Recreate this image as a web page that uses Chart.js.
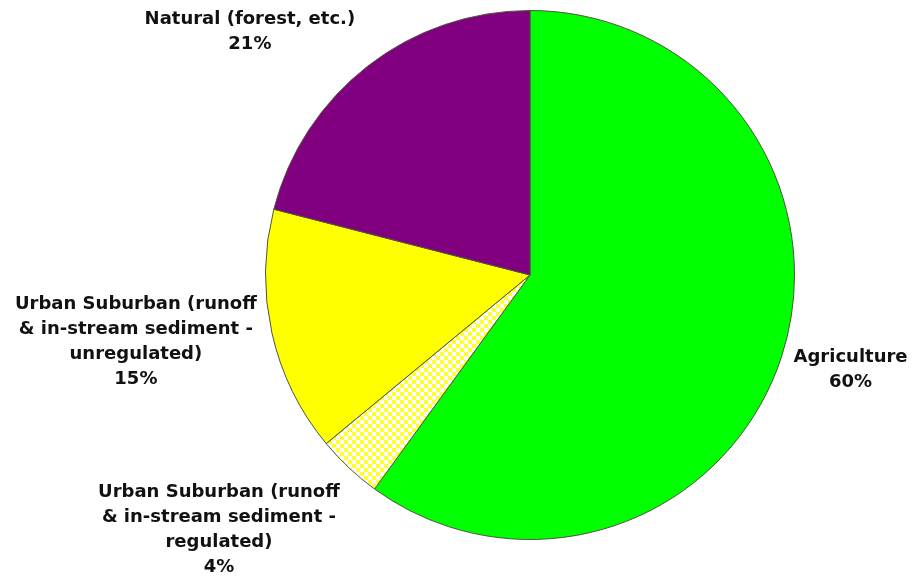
<!DOCTYPE html>
<html>
<head>
<meta charset="utf-8">
<script src="https://cdn.jsdelivr.net/npm/chart.js@4/dist/chart.umd.min.js"></script>
<style>
  html, body { margin: 0; padding: 0; background: #fff; }
  #wrap { width: 914px; height: 582px; }
</style>
</head>
<body>
<div id="wrap"><canvas id="c" width="914" height="582"></canvas></div>
<script>
// data, clockwise from 12 o'clock
const categories = [
  "Agriculture",
  "Urban Suburban (runoff\n& in-stream sediment -\nregulated)",
  "Urban Suburban (runoff\n& in-stream sediment -\nunregulated)",
  "Natural (forest, etc.)"
];
const shares = [60, 4, 15, 21];

// where each label sits relative to the outer middle of its slice (first line centre)
const labelOffsets = [[69, 1], [-130, 25], [-136, -28], [-118, -47]];

// yellow / white checker for the regulated slice
function checker() {
  const p = document.createElement("canvas");
  p.width = 8; p.height = 8;
  const g = p.getContext("2d");
  g.fillStyle = "#ffffff";
  g.fillRect(0, 0, 8, 8);
  g.fillStyle = "#ffff33";
  g.fillRect(0, 0, 4, 4);
  g.fillRect(4, 4, 4, 4);
  return g.createPattern(p, "repeat");
}

const labelPlugin = {
  id: "outerLabels",
  afterDraw(chart) {
    const ctx = chart.ctx;
    const arcs = chart.getDatasetMeta(0).data;
    ctx.save();
    ctx.font = "bold 18px 'DejaVu Sans', Verdana, sans-serif";
    ctx.fillStyle = "#111";
    ctx.textAlign = "center";
    ctx.textBaseline = "middle";
    arcs.forEach((arc, i) => {
      const mid = (arc.startAngle + arc.endAngle) / 2;
      const x = arc.x + Math.cos(mid) * arc.outerRadius + labelOffsets[i][0];
      const y = arc.y + Math.sin(mid) * arc.outerRadius + labelOffsets[i][1];
      const lines = categories[i].split("\n").concat([shares[i] + "%"]);
      lines.forEach((t, k) => ctx.fillText(t, x, y + k * 25));
    });
    ctx.restore();
  }
};

new Chart(document.getElementById("c"), {
  type: "pie",
  data: {
    labels: categories,
    datasets: [{
      data: shares,
      backgroundColor: ["#00ff00", checker(), "#ffff00", "#800080"],
      borderColor: "#4d5540",
      borderWidth: 1
    }]
  },
  options: {
    responsive: false,
    animation: false,
    layout: { padding: { left: 265, right: 119, top: 10, bottom: 42 } },
    plugins: {
      legend: { display: false },
      tooltip: { enabled: false }
    }
  },
  plugins: [labelPlugin]
});
</script>
</body>
</html>
